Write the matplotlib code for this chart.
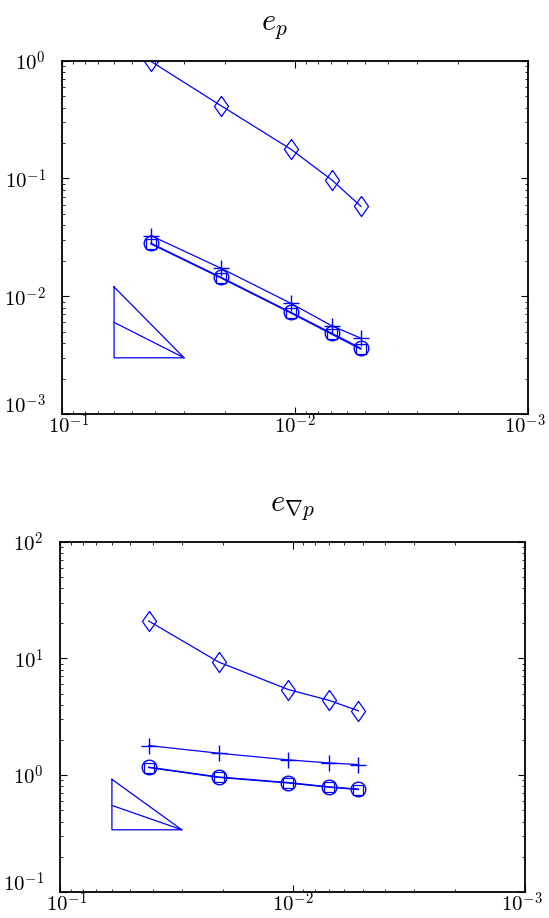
import math
import matplotlib
matplotlib.use("Agg")
import matplotlib.pyplot as plt
import matplotlib.transforms as mtransforms
from matplotlib.ticker import LogLocator, NullFormatter

plt.rcParams['mathtext.fontset'] = 'cm'
plt.rcParams['font.family'] = ['DejaVu Serif']

# mesh sizes
h = [1/24, 1/48, 1/96, 1/144, 1/192]

# e_p
ep_diamond = [0.987, 0.415, 0.177, 0.097, 0.058]
ep_plus = [0.0327, 0.0173, 0.0087, 0.0056, 0.0044]
ep_circle = [0.0282, 0.0145, 0.0073, 0.00485, 0.00362]
ep_square = [0.0278, 0.0143, 0.0072, 0.00475, 0.00355]

# e_grad p
eg_diamond = [20.9, 9.3, 5.4, 4.36, 3.55]
eg_plus = [1.79, 1.54, 1.35, 1.27, 1.23]
eg_circle = [1.17, 0.964, 0.863, 0.793, 0.758]
eg_square = [1.16, 0.955, 0.855, 0.787, 0.752]

# slope triangles (x: 0.06 -> 0.03)
tri_x = [0.06, 0.03]
tri1_y = [0.012, 0.006, 0.003]
tri2_y = [0.92, 0.55, 0.34]

blue = (0, 0, 1)
diamond = [(0, 1), (0.7, 0), (0, -1), (-0.7, 0), (0, 1)]

fig = plt.figure(figsize=(5.49, 9.18), dpi=100)
ax1 = fig.add_axes([0.1138, 0.549, 0.961 - 0.1138, 0.9339 - 0.549])
ax2 = fig.add_axes([0.110, 0.0285, 0.956 - 0.110, 0.410 - 0.0285])


def style(ax, ylim, yticks, title, title_x):
    ax.set_xscale('log')
    ax.set_yscale('log')
    ax.set_xlim(0.1, 0.001)
    ax.set_ylim(*ylim)
    ax.set_xticks([0.1, 0.01, 0.001])
    ax.set_xticklabels([r'$10^{-1}$', r'$10^{-2}$', r'$10^{-3}$'])
    ax.set_yticks(yticks)
    ax.set_yticklabels([r'$10^{%d}$' % round(math.log10(t)) for t in yticks])
    ax.xaxis.set_minor_locator(LogLocator(base=10, subs=range(2, 10), numticks=20))
    ax.yaxis.set_minor_locator(LogLocator(base=10, subs=range(2, 10), numticks=20))
    ax.xaxis.set_minor_formatter(NullFormatter())
    ax.yaxis.set_minor_formatter(NullFormatter())
    ax.tick_params(which='both', direction='in', top=True, right=True, labelsize=15, colors='black')
    ax.tick_params(axis='x', which='major', length=5, width=0.8, pad=0)
    ax.tick_params(axis='y', which='major', length=5, width=0.8, pad=12)
    ax.tick_params(which='minor', length=2.5, width=0.6)
    for s in ax.spines.values():
        s.set_linewidth(1.3)
    ax.set_title(title, fontsize=22, pad=22, x=title_x)
    # shift bottom y label upward and end x labels inward (as in reference)
    up = mtransforms.ScaledTranslation(0, 0.10, fig.dpi_scale_trans)
    lab = ax.yaxis.get_major_ticks()[0].label1
    lab.set_transform(lab.get_transform() + up)
    right = mtransforms.ScaledTranslation(0.06, 0, fig.dpi_scale_trans)
    labx = ax.xaxis.get_major_ticks()[0].label1
    labx.set_transform(labx.get_transform() + right)
    left = mtransforms.ScaledTranslation(-0.03, 0, fig.dpi_scale_trans)
    labx3 = ax.xaxis.get_major_ticks()[2].label1
    labx3.set_transform(labx3.get_transform() + left)


def draw(ax, d, p, c, s, ty):
    ax.plot(h, d, color=blue, lw=0.9, marker=diamond, ms=14.5, mfc='none', mec=blue, mew=0.9)
    ax.plot(h, p, color=blue, lw=0.9, marker='+', ms=11, mec=blue, mew=1.0)
    ax.plot(h, c, color=blue, lw=0.9, marker='o', ms=10.5, mfc='none', mec=blue, mew=1.0)
    ax.plot(h, s, color=blue, lw=0.9, marker='s', ms=7, mfc='none', mec=blue, mew=0.9)
    # slope triangle
    ax.plot([tri_x[0], tri_x[0], tri_x[1], tri_x[0]], [ty[0], ty[2], ty[2], ty[0]], color=blue, lw=0.9)
    ax.plot([tri_x[0], tri_x[1]], [ty[1], ty[2]], color=blue, lw=0.9)


style(ax1, (1e-3, 1), [1e-3, 1e-2, 1e-1, 1], r'$e_p$', 0.455)
draw(ax1, ep_diamond, ep_plus, ep_circle, ep_square, tri1_y)

style(ax2, (1e-1, 1e2), [1e-1, 1, 10, 100], r'$e_{\nabla p}$', 0.5)
draw(ax2, eg_diamond, eg_plus, eg_circle, eg_square, tri2_y)

fig.savefig('out.png', dpi=100)
